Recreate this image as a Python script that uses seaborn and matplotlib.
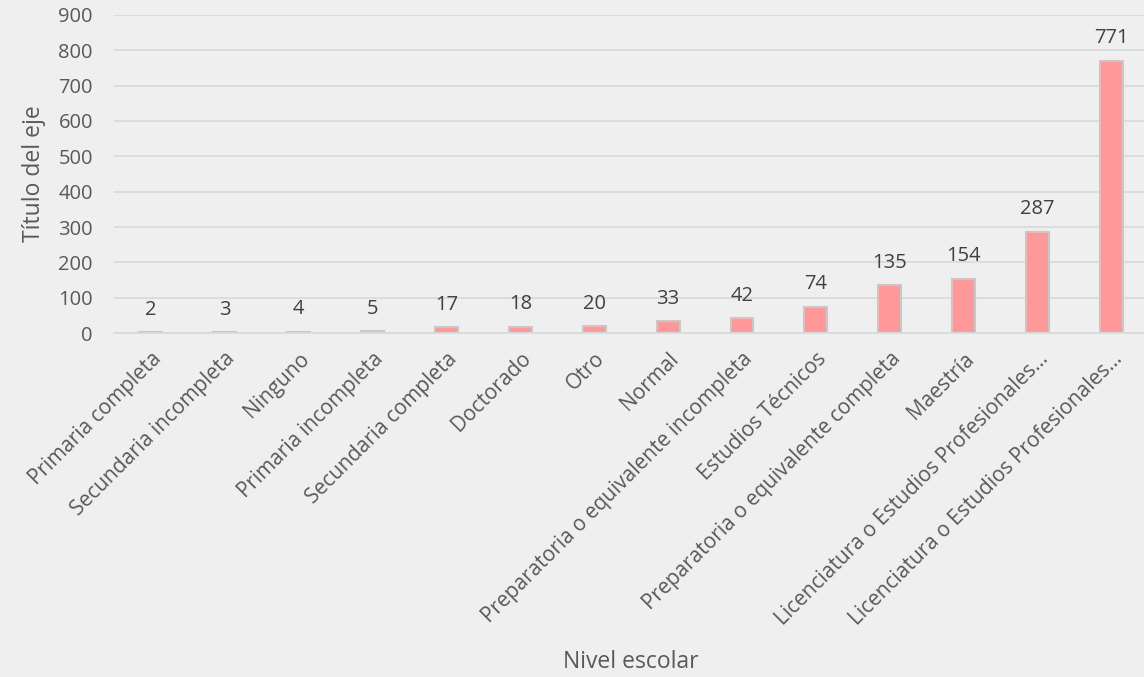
import matplotlib
matplotlib.use("Agg")
import matplotlib.pyplot as plt
import seaborn as sns
import pandas as pd

categories = [
    "Primaria completa", "Secundaria incompleta", "Ninguno", "Primaria incompleta",
    "Secundaria completa", "Doctorado", "Otro", "Normal",
    "Preparatoria o equivalente incompleta", "Estudios Técnicos",
    "Preparatoria o equivalente completa", "Maestría",
    "Licenciatura o Estudios Profesionales...", "Licenciatura o Estudios Profesionales...",
]
values = [2, 3, 4, 5, 17, 18, 20, 33, 42, 74, 135, 154, 287, 771]
y_ticks = [0, 100, 200, 300, 400, 500, 600, 700, 800, 900]

sns.set_theme(style="white")
plt.rcParams['font.family'] = ['Open Sans', 'DejaVu Sans']

bg = "#EFEFEF"
txt = "#595959"
fig = plt.figure(figsize=(11.44, 6.77), dpi=100, facecolor=bg)
ax = fig.add_axes([113.8 / 1144, 0.508, 1034.7 / 1144, 0.470])
ax.set_facecolor(bg)

df = pd.DataFrame({"pos": [str(i) for i in range(len(categories))], "val": values})
sns.barplot(data=df, x="pos", y="val", ax=ax, color="#FF9999", width=0.31,
            edgecolor="#C8C8C8", linewidth=1.5, saturation=1)

ax.set_ylim(0, 900)
ax.set_xlim(-0.5, len(categories) - 0.5)
ax.set_yticks(y_ticks)
ax.set_yticklabels([str(t) for t in y_ticks], fontsize=14.5, color=txt)
ax.yaxis.grid(True, color="#D9D9D9", linewidth=1.2)
ax.set_axisbelow(True)
ax.set_xticks(range(len(categories)))
ax.set_xticklabels(categories, rotation=45, ha="right", rotation_mode="anchor",
                   fontsize=15, color=txt)
ax.tick_params(axis="y", length=0, pad=15)
ax.tick_params(axis="x", length=0, pad=11)
for s in ["top", "right", "left"]:
    ax.spines[s].set_visible(False)
ax.spines["bottom"].set_color("#D9D9D9")
ax.spines["bottom"].set_linewidth(1.2)

for c in ax.containers:
    ax.bar_label(c, labels=[str(v) for v in values], padding=9, fontsize=14.5, color="#404040")

ax.set_ylabel("Título del eje", fontsize=16.5, color=txt)
ax.yaxis.set_label_coords(-0.0655, 0.5)
ax.set_xlabel("")
fig.text(0.551, 0.022, "Nivel escolar", ha="center", va="center", fontsize=16.5, color=txt)

fig.savefig("out.png", dpi=100, facecolor=bg)
